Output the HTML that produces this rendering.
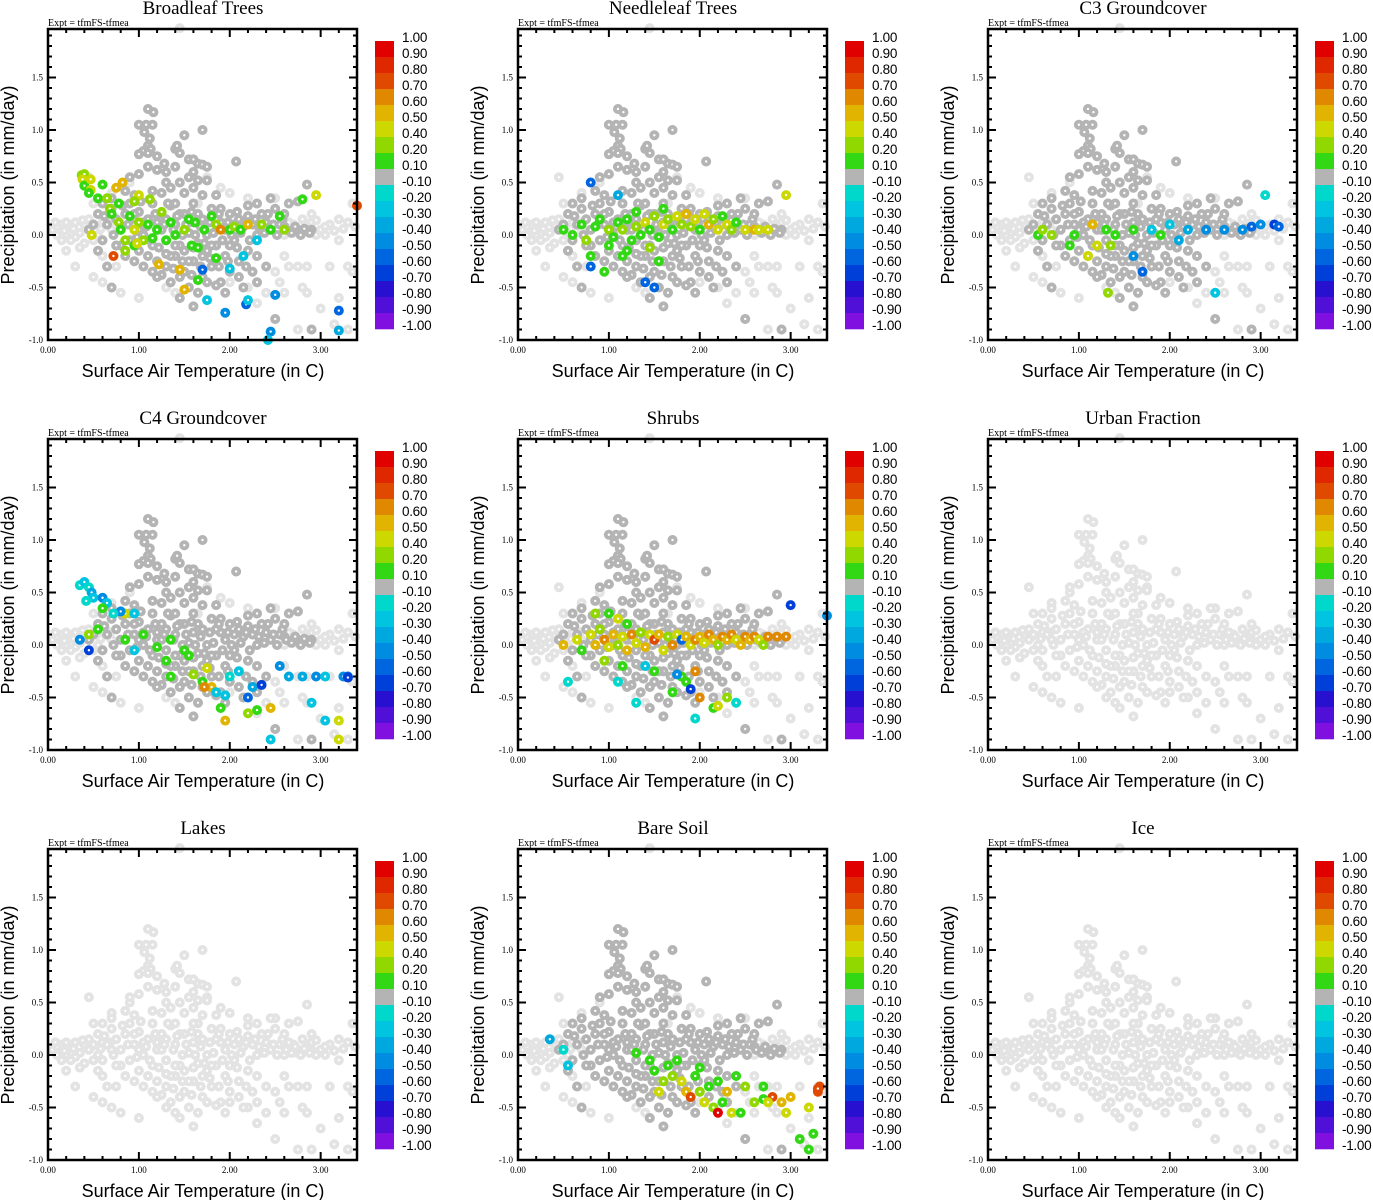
<!DOCTYPE html>
<html><head><meta charset="utf-8"><style>
body{margin:0;background:#fff;}
svg{display:block;}
.ser{font-family:"Liberation Serif",serif;}
.san{font-family:"Liberation Sans",sans-serif;}
</style></head><body>
<svg id="fig" width="1373" height="1200" viewBox="0 0 1373 1200" xmlns="http://www.w3.org/2000/svg"></svg>
<script>
const titles=["Broadleaf Trees","Needleleaf Trees","C3 Groundcover","C4 Groundcover","Shrubs","Urban Fraction","Lakes","Bare Soil","Ice"];
const xTicks=[0,1,2,3];
const xTickLabels=["0.00","1.00","2.00","3.00"];
const yTicks=[-1,-0.5,0,0.5,1,1.5];
const yTickLabels=["-1.0","-0.5","0.0","0.5","1.0","1.5"];
const cbLabels=["1.00","0.90","0.80","0.70","0.60","0.50","0.40","0.20","0.10","-0.10","-0.20","-0.30","-0.40","-0.50","-0.60","-0.70","-0.80","-0.90","-1.00"];
const cbColors=["#e00000","#e02800","#e04a00","#e08800","#e0b400","#ccd800","#90d800","#33d815","#b4b4b4","#00d8cc","#00c4e0","#00a8e0","#008ce0","#0066e0","#0040d8","#2810d0","#5010d8","#8010e0"];
const lightPts=[[0.05,0.05],[0.15,0.1],[0.2,0.0],[0.25,0.08],[0.3,0.12],[0.35,0.02],[0.4,0.1],[0.1,0.0],[0.2,0.12],[0.3,-0.02],[0.45,0.15],[0.55,0.0],[0.6,0.12],[0.5,-0.05],[0.7,0.05],[0.4,-0.08],[0.3,-0.3],[0.2,-0.15],[0.5,-0.4],[0.6,-0.45],[0.8,-0.55],[2.7,0.1],[2.8,0.15],[2.9,0.12],[3.0,0.05],[3.1,0.1],[3.2,0.15],[3.3,0.12],[3.05,0.0],[2.95,0.0],[2.6,0.0],[2.65,-0.3],[2.75,-0.3],[2.85,-0.3],[3.1,-0.3],[3.3,-0.3],[3.35,-0.35],[2.8,-0.5],[2.85,-0.55],[2.6,-0.55],[3.0,-0.7],[3.2,-0.6],[3.3,-0.9],[2.75,-0.9],[1.45,1.97],[0.5,0.3],[0.45,0.55],[0.7,0.4],[1.3,-0.5],[1.4,-0.55],[2.0,-0.45],[2.2,-0.5],[2.3,-0.65],[1.75,0.55],[1.65,0.3],[2.0,0.4],[2.2,0.35],[2.5,0.35],[2.6,-0.2],[2.4,-0.55],[2.5,-0.35],[3.15,-0.85],[3.35,0.3],[0.1,0.08],[0.25,-0.05],[0.6,-0.2],[0.75,-0.3],[0.08,0.12],[0.18,0.04],[0.28,0.06],[0.38,0.14],[0.48,0.08],[0.58,0.06],[0.68,0.12],[2.65,0.12],[2.75,0.02],[2.85,0.08],[2.95,0.14],[3.05,0.08],[3.15,0.04],[3.25,0.06],[3.38,0.08],[0.35,-0.12],[0.15,-0.05],[2.9,0.2],[3.2,-0.05],[0.9,0.5],[1.9,0.45],[1.0,-0.6],[2.55,-0.45]];
const grayPts=[[1.0,1.05],[1.08,1.05],[1.15,1.05],[1.06,0.98],[1.12,0.92],[1.1,0.85],[1.13,0.82],[1.05,0.8],[1.1,0.78],[1.0,0.77],[1.2,0.75],[1.28,0.68],[1.4,0.82],[1.42,0.85],[1.45,0.78],[1.5,0.95],[1.7,1.0],[1.1,1.2],[1.16,1.17],[1.55,0.72],[1.6,0.72],[1.65,0.68],[1.7,0.67],[1.75,0.65],[1.6,0.6],[1.55,0.55],[1.65,0.52],[1.75,0.52],[2.07,0.7],[1.4,0.65],[1.3,0.6],[1.2,0.62],[1.1,0.65],[1.0,0.58],[0.9,0.55],[1.3,0.5],[1.45,0.5],[1.35,0.45],[1.5,0.4],[1.6,0.45],[1.25,0.4],[1.15,0.42],[0.85,0.42],[0.95,0.38],[0.55,0.2],[0.65,0.1],[0.7,0.25],[0.75,0.15],[0.8,0.05],[0.85,0.2],[0.9,0.3],[0.95,0.1],[1.0,0.22],[1.05,0.0],[1.1,0.15],[1.15,0.3],[1.2,0.05],[1.25,0.2],[1.3,-0.05],[1.35,0.28],[1.4,0.1],[1.45,-0.1],[1.5,0.2],[1.55,0.02],[1.6,0.3],[1.65,-0.08],[1.7,0.15],[1.75,0.0],[1.8,0.25],[1.85,-0.1],[1.9,0.12],[1.95,0.05],[2.0,0.2],[2.05,-0.05],[2.1,0.15],[2.15,0.08],[2.2,0.28],[2.25,0.1],[2.3,0.0],[2.35,0.2],[2.4,0.12],[2.45,0.05],[2.5,0.25],[2.55,0.1],[2.6,0.08],[2.7,0.05],[2.8,0.04],[2.9,0.05],[2.45,0.35],[2.75,0.32],[2.85,0.48],[1.0,-0.15],[1.1,-0.2],[1.2,-0.25],[1.3,-0.3],[1.4,-0.2],[1.5,-0.35],[1.6,-0.25],[1.7,-0.4],[1.8,-0.3],[1.9,-0.45],[1.45,-0.4],[1.55,-0.5],[1.35,-0.45],[1.25,-0.38],[1.15,-0.35],[1.05,-0.3],[0.95,-0.25],[0.6,-0.05],[0.55,-0.15],[0.65,-0.3],[0.7,-0.5],[1.75,-0.45],[2.0,-0.35],[2.1,-0.25],[2.2,-0.15],[2.3,-0.2],[2.15,-0.5],[2.3,-0.45],[2.4,-0.3],[1.6,-0.68],[1.85,-0.48],[2.1,-0.4],[2.5,-0.8],[2.9,-0.9],[1.4,-0.1],[1.5,-0.15],[1.6,-0.12],[1.7,-0.2],[1.8,-0.1],[2.0,-0.1],[0.8,-0.1],[0.9,-0.05],[1.0,0.05],[1.2,0.12],[1.3,0.15],[1.4,0.3],[1.6,0.12],[1.9,0.25],[2.2,0.18],[0.5,0.1],[0.45,0.05],[1.35,-0.2],[1.45,0.2],[1.55,-0.25],[1.65,0.2],[1.75,-0.15],[1.85,0.15],[1.95,-0.2],[2.05,0.1],[1.25,0.05],[1.15,-0.1],[1.05,0.12],[0.95,0.2],[0.7,0.35],[0.6,0.3],
[0.62,0.18],[0.72,0.0],[0.82,0.28],[0.88,0.1],[0.98,-0.02],[1.02,0.32],[1.08,0.08],[1.18,0.2],[1.22,-0.12],[1.28,0.1],[1.32,0.3],[1.38,0.05],[1.42,0.18],[1.48,0.0],[1.52,0.1],[1.58,0.22],[1.62,0.0],[1.68,0.08],[1.72,-0.08],[1.78,0.12],[1.82,0.02],[1.88,0.2],[1.92,-0.05],[1.98,0.12],[2.02,0.0],[2.08,0.22],[2.12,0.02],[2.18,0.12],[2.22,-0.05],[2.28,0.15],[2.32,0.08],[2.38,0.02],[2.42,0.2],[2.48,0.1],[2.52,0.0],[2.58,0.15],[2.62,0.05],[2.68,0.02],[2.72,0.08],[2.78,0.0],[2.82,0.06],[2.88,0.02],[1.2,-0.4],[1.38,-0.32],[1.48,-0.25],[1.58,-0.38],[1.68,-0.3],[1.78,-0.22],[1.88,-0.3],[1.98,-0.25],[2.08,-0.12],[2.18,-0.3],[1.3,-0.18],[1.12,-0.05],[0.85,-0.2],[0.75,-0.1],[1.65,-0.55],[1.45,-0.6],[2.25,-0.35],[1.95,-0.55],[1.7,0.38],[1.85,0.38],[2.3,0.3],[2.6,0.2],[2.65,0.3]];
const coloredBroadleaf=[[0.37,0.57,0.2],[0.4,0.58,0.2],[0.38,0.53,0.4],[0.4,0.47,0.1],[0.47,0.53,0.4],[0.47,0.43,0.4],[0.45,0.4,0.1],[0.6,0.48,0.1],[0.55,0.35,0.1],[0.65,0.35,0.2],[0.82,0.5,0.5],[0.75,0.45,0.5],[1.0,0.38,0.4],[0.95,0.32,0.2],[1.12,0.34,0.2],[0.78,0.3,0.1],[0.68,0.25,0.2],[0.7,0.2,0.1],[0.9,0.18,0.1],[0.78,0.12,0.2],[1.1,0.1,0.1],[1.0,0.12,0.2],[0.95,0.05,0.4],[1.2,0.05,0.1],[0.8,0.05,0.1],[0.85,-0.05,0.2],[0.95,-0.1,0.1],[1.05,-0.05,0.2],[1.15,-0.03,0.1],[1.3,-0.05,0.1],[1.4,0.0,0.1],[1.5,0.05,0.2],[1.55,0.15,0.1],[1.62,0.12,0.1],[1.58,-0.1,0.1],[1.65,-0.12,0.1],[1.72,0.05,0.1],[1.8,0.18,0.1],[1.85,0.1,0.2],[1.9,0.05,0.6],[2.0,0.05,0.1],[2.05,0.08,0.2],[2.12,0.05,0.1],[2.2,0.1,0.5],[2.35,0.1,0.2],[2.45,0.05,0.1],[2.55,0.18,0.1],[2.6,0.05,0.2],[0.48,0.0,0.4],[0.85,-0.15,0.2],[0.98,-0.08,0.4],[1.22,-0.28,0.5],[1.45,-0.33,0.5],[1.5,-0.52,0.5],[0.72,-0.2,0.7],[1.65,-0.43,0.1],[1.85,-0.22,0.1],[1.7,-0.33,-0.6],[2.0,-0.32,-0.3],[2.15,-0.2,-0.3],[2.3,-0.05,-0.3],[1.75,-0.62,-0.3],[1.95,-0.74,-0.5],[2.18,-0.66,-0.6],[2.2,-0.62,-0.3],[2.45,-0.92,-0.5],[2.5,-0.57,-0.5],[2.42,-1.0,-0.3],[3.2,-0.72,-0.6],[3.2,-0.91,-0.4],[2.8,0.34,0.1],[2.95,0.38,0.4],[3.4,0.28,0.7],[1.25,0.22,0.2],[1.35,0.12,0.1]];
const coloredNeedleleaf=[[0.5,0.05,0.1],[0.6,0.0,0.1],[0.7,0.1,0.1],[0.75,-0.05,0.2],[0.85,0.08,0.1],[0.9,0.15,0.1],[1.0,0.05,0.2],[1.05,-0.02,0.1],[1.1,0.12,0.1],[1.15,0.05,0.2],[1.2,0.15,0.1],[1.25,-0.05,0.1],[1.3,0.08,0.2],[1.35,0.0,0.1],[1.4,0.12,0.4],[1.45,0.05,0.1],[1.5,0.18,0.2],[1.55,-0.02,0.1],[1.6,0.1,0.4],[1.65,0.15,0.2],[1.7,0.05,0.1],[1.75,0.18,0.4],[1.8,0.1,0.2],[1.85,0.2,0.5],[1.9,0.08,0.2],[1.95,0.15,0.4],[2.0,0.05,0.1],[2.05,0.2,0.4],[2.1,0.1,0.5],[2.15,0.15,0.2],[2.2,0.05,0.4],[2.25,0.18,0.1],[2.3,0.1,0.4],[2.35,0.05,0.2],[2.4,0.12,0.1],[2.5,0.05,0.4],[2.6,0.05,0.5],[2.65,0.05,0.4],[2.95,0.38,0.4],[1.3,0.22,0.1],[1.6,0.25,0.1],[1.0,-0.1,0.1],[1.45,-0.12,0.2],[1.55,-0.25,0.1],[0.8,-0.2,0.1],[0.95,-0.35,0.1],[1.4,-0.45,-0.6],[1.5,-0.5,-0.6],[0.8,-0.3,-0.6],[0.8,0.5,-0.6],[1.1,0.38,-0.4],[1.15,-0.2,0.1],[1.2,-0.15,0.1],[2.75,0.05,0.4]];
const coloredC3=[[0.55,0.0,0.1],[0.6,0.05,0.2],[0.7,0.0,0.2],[0.95,0.0,0.1],[1.2,-0.1,0.4],[1.3,0.05,0.1],[1.35,-0.1,0.2],[1.4,0.0,0.1],[1.6,0.05,0.1],[1.9,0.0,0.1],[1.15,0.1,0.5],[0.9,-0.1,0.1],[1.1,-0.2,0.4],[1.32,-0.55,0.2],[1.6,-0.2,-0.5],[1.7,-0.35,-0.6],[2.5,-0.55,-0.3],[2.0,0.1,-0.3],[2.2,0.05,-0.4],[2.4,0.05,-0.5],[2.6,0.05,-0.5],[2.8,0.05,-0.5],[2.9,0.08,-0.6],[3.0,0.1,-0.5],[3.15,0.1,-0.7],[3.2,0.08,-0.6],[3.05,0.38,-0.2],[1.8,0.05,-0.3],[2.1,-0.05,-0.4]];
const coloredC4=[[0.35,0.57,-0.2],[0.4,0.6,-0.3],[0.45,0.55,-0.2],[0.48,0.5,-0.4],[0.5,0.45,-0.3],[0.42,0.42,-0.2],[0.6,0.45,-0.5],[0.65,0.4,-0.3],[0.6,0.35,0.1],[0.85,0.3,0.4],[0.8,0.32,-0.5],[0.95,0.3,-0.3],[0.72,0.3,-0.2],[0.55,0.15,0.1],[0.45,0.1,0.2],[0.35,0.05,-0.5],[0.45,-0.05,-0.7],[0.85,0.05,0.1],[0.95,-0.05,-0.3],[1.2,-0.02,0.1],[1.3,-0.15,0.1],[1.35,-0.3,0.1],[1.55,-0.1,0.1],[1.6,-0.28,0.2],[1.7,-0.35,0.1],[1.75,-0.22,0.4],[1.8,-0.4,0.5],[1.72,-0.4,0.6],[1.85,-0.45,-0.3],[1.95,-0.48,-0.3],[2.0,-0.3,-0.2],[2.1,-0.25,-0.3],[2.2,-0.5,-0.6],[2.25,-0.4,-0.4],[2.35,-0.38,-0.7],[2.3,-0.62,0.1],[2.2,-0.65,0.2],[2.45,-0.6,0.5],[1.9,-0.6,0.1],[1.95,-0.72,0.5],[2.55,-0.2,-0.5],[2.65,-0.3,-0.4],[2.8,-0.3,-0.4],[2.95,-0.3,-0.5],[3.05,-0.3,-0.3],[3.25,-0.3,-0.5],[3.3,-0.3,-0.6],[3.3,-0.31,-0.7],[2.9,-0.55,-0.3],[3.05,-0.72,-0.3],[3.2,-0.72,0.4],[3.2,-0.9,0.4],[2.45,-0.9,-0.3],[1.35,0.05,0.1],[1.5,-0.05,0.1],[1.05,0.1,0.1]];
const coloredShrubs=[[0.5,0.0,0.5],[0.65,0.05,0.4],[0.7,-0.05,0.1],[0.8,0.1,0.4],[0.85,0.0,0.5],[0.9,0.15,0.2],[0.95,0.05,0.6],[1.0,-0.02,0.4],[1.05,0.1,0.5],[1.1,0.0,0.2],[1.15,0.08,0.4],[1.2,-0.05,0.5],[1.25,0.1,0.6],[1.3,0.02,0.4],[1.35,0.12,0.2],[1.4,-0.02,0.5],[1.45,0.1,0.4],[1.5,0.05,0.7],[1.55,0.1,0.5],[1.6,-0.05,0.4],[1.65,0.08,0.2],[1.7,0.0,0.6],[1.75,0.1,0.4],[1.8,0.05,-0.6],[1.85,0.08,0.5],[1.9,0.0,0.4],[1.95,0.05,0.6],[2.0,0.08,0.5],[2.05,0.02,0.4],[2.1,0.1,0.6],[2.15,0.05,0.5],[2.2,0.0,0.2],[2.25,0.08,0.6],[2.3,0.05,0.5],[2.35,0.1,0.6],[2.4,0.05,0.4],[2.45,0.0,0.5],[2.5,0.08,0.6],[2.55,0.05,0.5],[2.6,0.08,0.6],[2.65,0.05,0.4],[2.7,0.0,0.2],[2.75,0.08,0.6],[2.85,0.08,0.6],[2.95,0.08,0.6],[3.0,0.38,-0.7],[3.4,0.28,-0.5],[0.85,0.3,0.2],[1.0,0.3,0.1],[1.1,0.25,0.4],[1.2,0.2,0.1],[0.95,-0.15,0.2],[1.15,-0.2,0.1],[1.4,-0.2,-0.3],[1.5,-0.25,0.1],[1.8,-0.3,0.1],[1.95,-0.25,0.6],[1.85,-0.35,0.1],[1.7,-0.45,0.1],[2.0,-0.5,0.6],[2.15,-0.6,0.1],[2.3,-0.5,0.2],[2.4,-0.55,-0.2],[1.3,-0.55,-0.2],[1.95,-0.7,-0.2],[1.1,-0.35,-0.2],[0.55,-0.35,-0.2],[1.75,-0.28,-0.5],[1.9,-0.42,-0.7],[2.2,-0.58,0.4]];
const coloredBareSoil=[[0.35,0.15,-0.4],[0.5,0.05,-0.2],[0.55,-0.1,-0.3],[1.3,0.02,0.1],[1.45,-0.05,0.1],[1.5,-0.15,0.1],[1.65,-0.1,0.1],[1.7,-0.2,0.2],[1.8,-0.25,0.4],[1.85,-0.35,0.5],[1.9,-0.4,0.7],[1.95,-0.2,0.1],[2.0,-0.35,0.2],[2.05,-0.45,0.4],[2.1,-0.3,0.1],[2.15,-0.5,0.2],[2.2,-0.55,0.9],[2.25,-0.45,0.1],[2.3,-0.35,0.5],[2.35,-0.55,0.4],[2.4,-0.2,0.1],[2.45,-0.55,0.1],[2.5,-0.3,0.2],[2.6,-0.45,0.2],[2.7,-0.3,0.1],[2.7,-0.42,0.1],[2.8,-0.4,0.7],[2.9,-0.45,0.5],[3.0,-0.4,0.5],[3.2,-0.5,0.4],[3.25,-0.75,0.1],[3.1,-0.8,0.1],[3.2,-0.9,0.1],[3.3,-0.35,0.7],[3.32,-0.3,0.7],[3.3,-0.32,0.7],[2.95,-0.55,0.4],[2.75,-0.45,0.4],[1.6,-0.25,0.2],[1.55,-0.35,0.4],[2.0,-0.12,0.1],[1.75,-0.05,0.1],[2.2,-0.25,0.1]];
const panelColored=[coloredBroadleaf,coloredNeedleleaf,coloredC3,coloredC4,coloredShrubs,null,null,coloredBareSoil,null];

const NS="http://www.w3.org/2000/svg";
const svg=document.getElementById('fig');
function mk(tag,attrs,parent,text){const e=document.createElementNS(NS,tag);for(const k in attrs)e.setAttribute(k,attrs[k]);if(text!==undefined)e.textContent=text;parent.appendChild(e);return e;}
const W=309,H=311,XMAX=3.4,YMIN=-1,YMAX=1.962;
function colorFor(v){
  const th=[0.9,0.8,0.7,0.6,0.5,0.4,0.2,0.1,-0.1,-0.2,-0.3,-0.4,-0.5,-0.6,-0.7,-0.8,-0.9];
  for(let i=0;i<th.length;i++){if(v>=th[i]-1e-9)return cbColors[i];}
  return cbColors[17];
}
function kebab(s){return s.toLowerCase().replace(/[^a-z0-9]+/g,'-').replace(/-$/,'');}

titles.forEach((t,pi)=>{
  const r=Math.floor(pi/3),c=pi%3;
  const ox=48+470*c, oy=29+410*r;
  const sx=v=>ox+v/XMAX*W;
  const sy=v=>oy+H-(v-YMIN)/(YMAX-YMIN)*H;
  const g=mk('g',{},svg);
  
  
  const tt=mk('text',{x:ox+155,y:oy-15,'text-anchor':'middle','font-size':19,class:'ser'},g,t);
  
  
  const ex=mk('text',{x:ox,y:oy-3,'font-size':10,class:'ser'},g,'Expt = tfmFS-tfmea');
  
  
  const cid='clip'+pi;
  const cp=mk('clipPath',{id:cid},g);mk('rect',{x:ox-6,y:oy-6,width:W+12,height:H+12},cp);
  const pts=mk('g',{'clip-path':'url(#'+cid+')'},g);
  
  
  const dot=(x,y,col)=>{
    const cc=mk('circle',{cx:sx(x),cy:sy(y),r:5,fill:col},pts);
    
    
    mk('circle',{cx:sx(x),cy:sy(y),r:1.2,fill:'#fff'},pts);
  };
  lightPts.concat(grayPts).forEach(p=>dot(p[0],p[1],'#e3e3e3'));
  const col=panelColored[pi];
  if(col){
    grayPts.forEach(p=>dot(p[0],p[1],'#b4b4b4'));
    col.forEach(p=>dot(p[0],p[1],colorFor(p[2])));
  }
  const fr=mk('rect',{x:ox,y:oy,width:W,height:H,fill:'none',stroke:'#000','stroke-width':2.5},g);
  
  
  for(let v=0;v<=XMAX+1e-9;v+=0.2){
    const major=Math.abs(v-Math.round(v))<1e-6;const L=major?8:4;
    mk('line',{x1:sx(v),x2:sx(v),y1:oy+H,y2:oy+H-L,stroke:'#000','stroke-width':2},g);
    mk('line',{x1:sx(v),x2:sx(v),y1:oy,y2:oy+L,stroke:'#000','stroke-width':2},g);
  }
  for(let v=-1;v<=YMAX;v+=0.1){
    const major=Math.abs(v*2-Math.round(v*2))<1e-6;const L=major?8:4;
    mk('line',{x1:ox,x2:ox+L,y1:sy(v),y2:sy(v),stroke:'#000','stroke-width':2},g);
    mk('line',{x1:ox+W,x2:ox+W-L,y1:sy(v),y2:sy(v),stroke:'#000','stroke-width':2},g);
  }
  xTicks.forEach((v,i)=>{const e=mk('text',{x:sx(v),y:oy+H+13,'text-anchor':'middle','font-size':9,class:'ser'},g,xTickLabels[i]);
    });
  yTicks.forEach((v,i)=>{const e=mk('text',{x:ox-5,y:sy(v)+3,'text-anchor':'end','font-size':9,class:'ser'},g,yTickLabels[i]);
    });
  const xl=mk('text',{x:ox+155,y:oy+H+37,'text-anchor':'middle','font-size':18,class:'san'},g,'Surface Air Temperature (in C)');
  
  
  const yl=mk('text',{x:0,y:0,'text-anchor':'middle','font-size':18,class:'san',transform:'translate('+(ox-34)+','+(oy+156)+') rotate(-90)'},g,'Precipitation (in mm/day)');
  
  
  const cb=mk('g',{},g);
  
  
  cbColors.forEach((cc,i)=>{const e=mk('rect',{x:ox+327,y:oy+12+16*i,width:19,height:16.3,fill:cc},cb);
    });
  cbLabels.forEach((l,i)=>{const e=mk('text',{x:ox+354,y:oy+13+16*i,'font-size':13.5,'letter-spacing':-0.3,class:'san'},cb,l);
    });
});
</script>
</body></html>
